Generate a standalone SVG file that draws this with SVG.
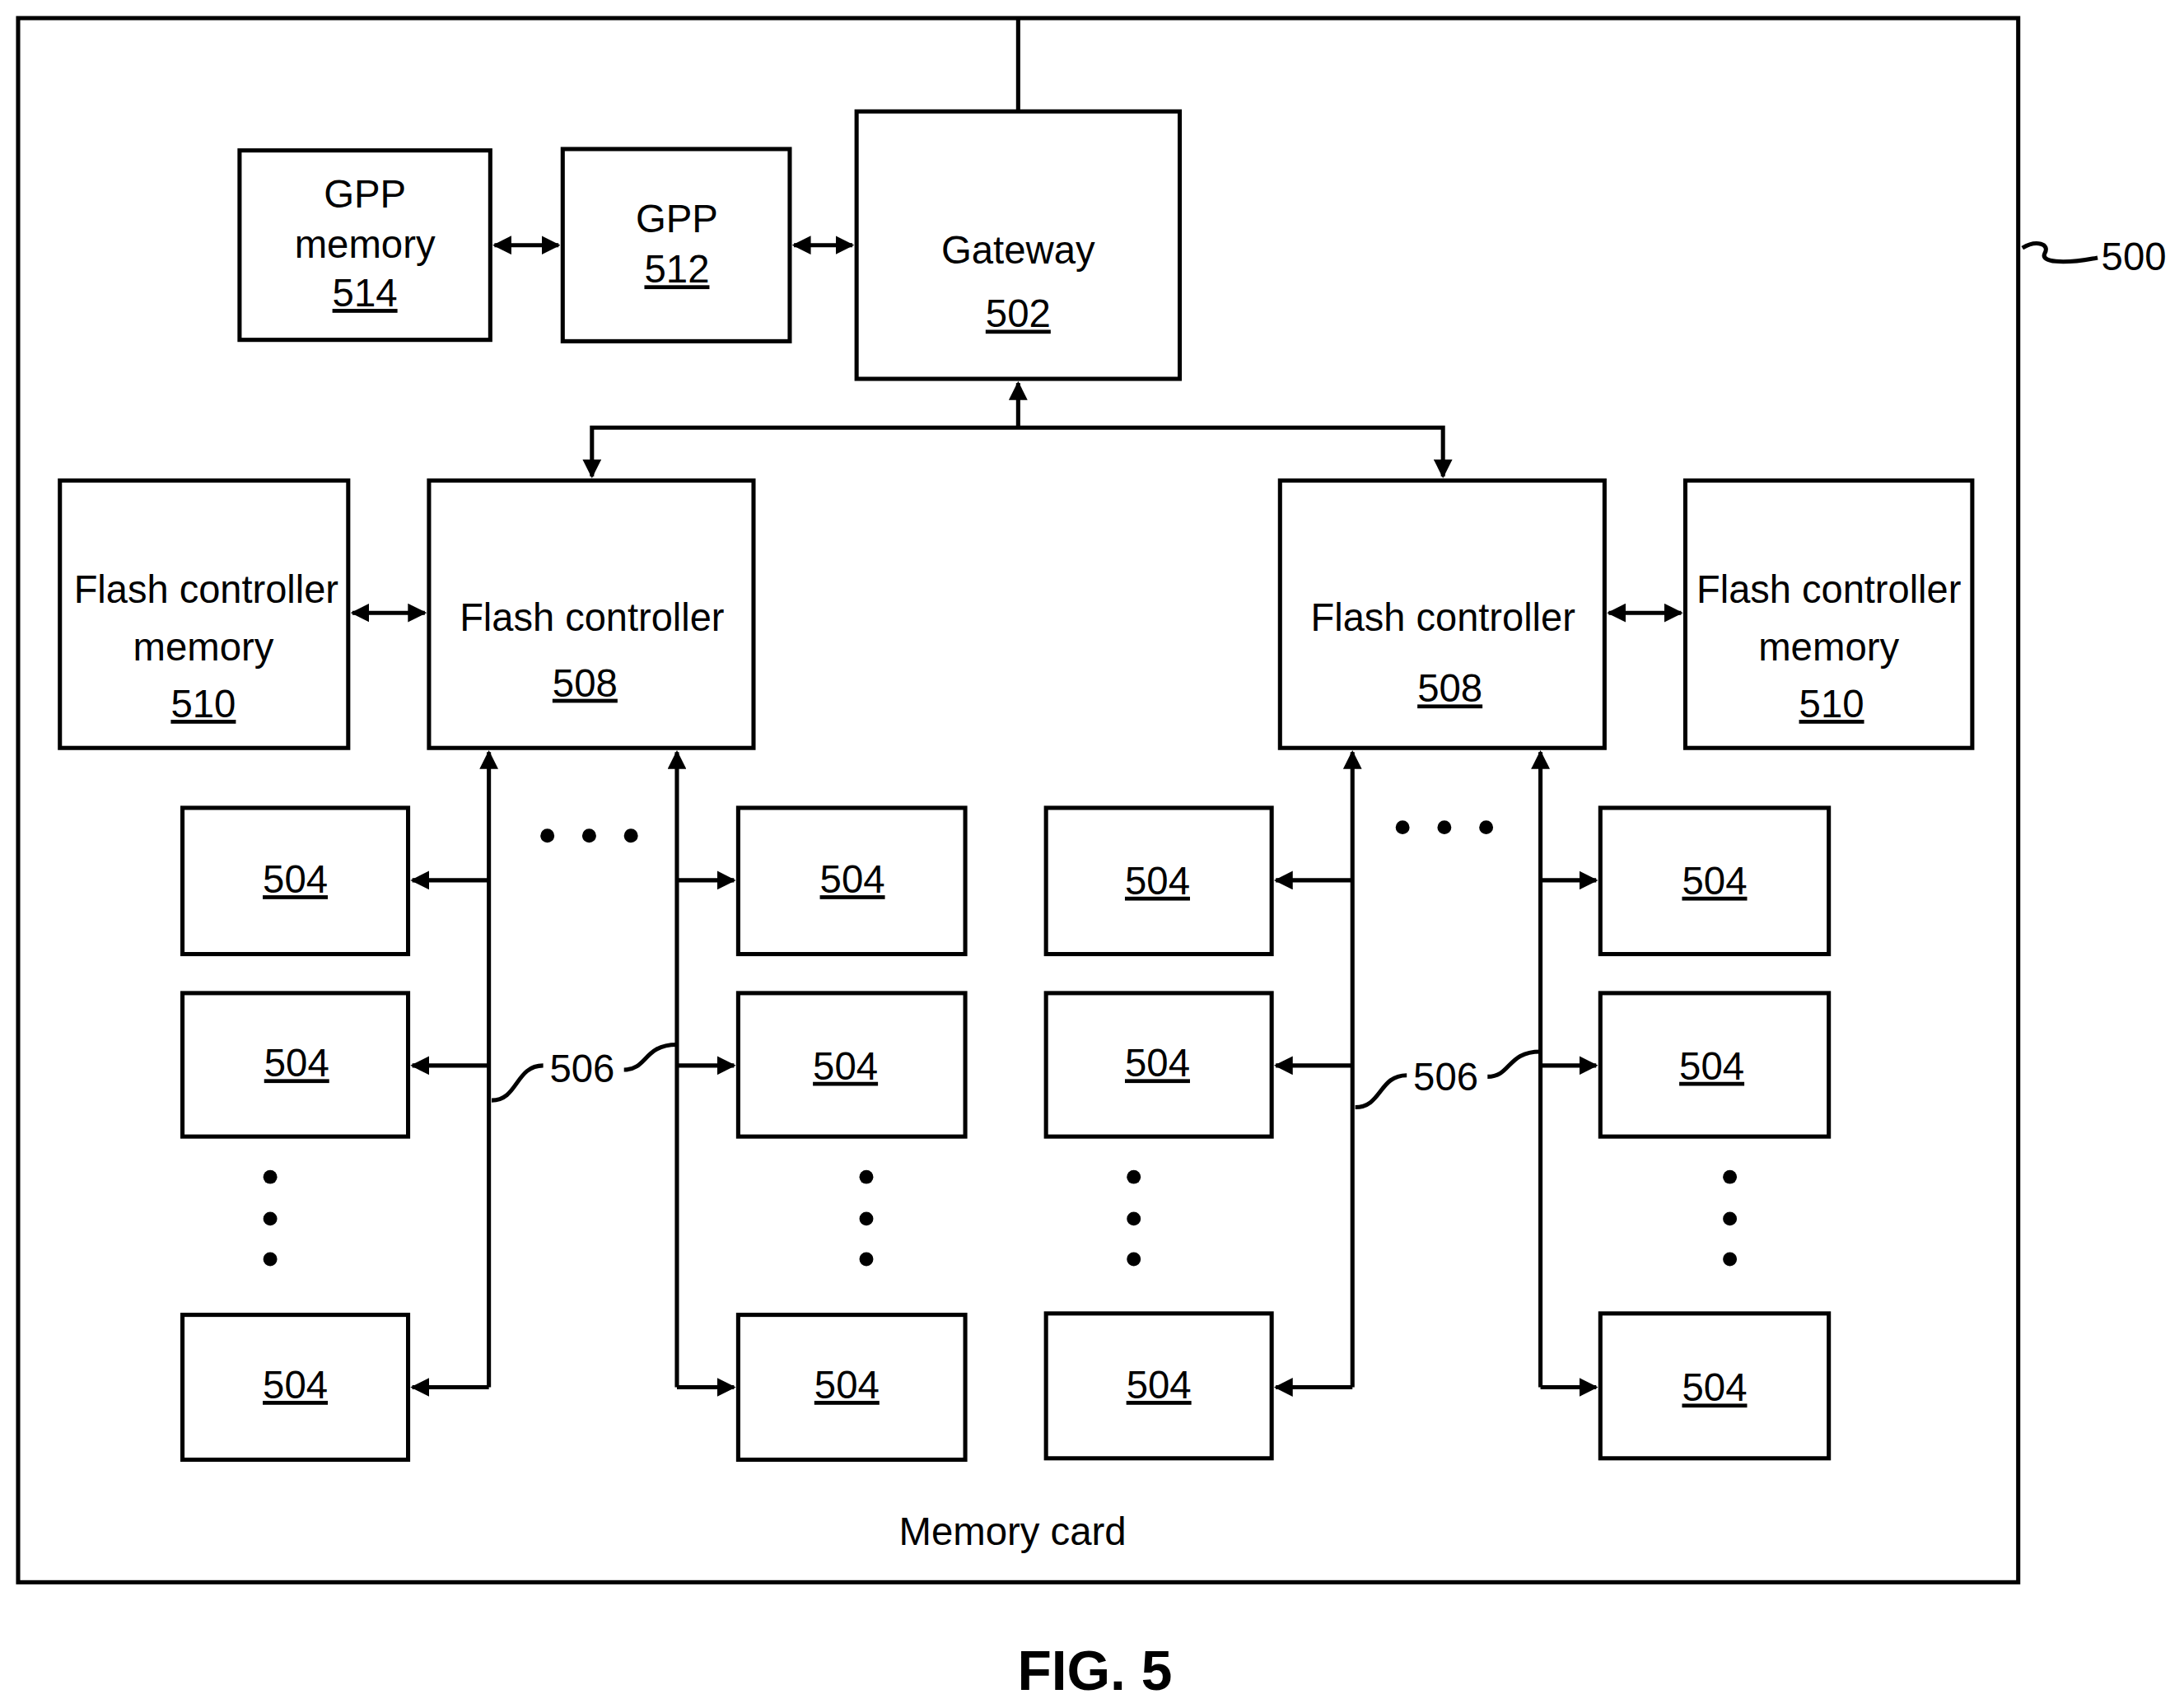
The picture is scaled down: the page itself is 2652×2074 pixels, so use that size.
<svg xmlns="http://www.w3.org/2000/svg" width="2652" height="2074" viewBox="0 0 2652 2074">
<style>
.b{fill:#fff;stroke:#000;stroke-width:3}
.l{fill:none;stroke:#000;stroke-width:3}
text{font-family:"Liberation Sans",Arial,sans-serif;font-size:28px;text-anchor:middle;fill:#000}
.u{text-decoration:underline}
.d{fill:#000}
</style>
<defs>
<marker id="a" viewBox="0 0 10 10" refX="9" refY="5" markerWidth="4.5" markerHeight="4.5" orient="auto-start-reverse"><path d="M0,0L10,5L0,10z"/></marker>
</defs>
<rect width="2652" height="2074" fill="#fff"/>
<g transform="scale(1.6913)">
<rect id="card" class="b" x="13" y="13" width="1436" height="1123"/>
<g id="gppmem"><rect class="b" x="172" y="108" width="180" height="136"/><text x="262" y="149">GPP</text><text x="262" y="185">memory</text><text class="u" x="262" y="220">514</text></g>
<g id="gpp"><rect class="b" x="404" y="107" width="163" height="138"/><text x="486" y="167">GPP</text><text class="u" x="486" y="203">512</text></g>
<g id="gateway"><rect class="b" x="615" y="80" width="232" height="192"/><text x="731" y="189">Gateway</text><text class="u" x="731" y="235">502</text></g>
<g id="fcm1"><rect class="b" x="43" y="345" width="207" height="192"/><text x="148" y="433" textLength="190" lengthAdjust="spacingAndGlyphs">Flash controller</text><text x="146" y="474">memory</text><text class="u" x="146" y="515">510</text></g>
<g id="fc1"><rect class="b" x="308" y="345" width="233" height="192"/><text x="425" y="453" textLength="190" lengthAdjust="spacingAndGlyphs">Flash controller</text><text class="u" x="420" y="500">508</text></g>
<g id="fc2"><rect class="b" x="919" y="345" width="233" height="192"/><text x="1036" y="453" textLength="190" lengthAdjust="spacingAndGlyphs">Flash controller</text><text class="u" x="1041" y="504">508</text></g>
<g id="fcm2"><rect class="b" x="1210" y="345" width="206" height="192"/><text x="1313" y="433" textLength="190" lengthAdjust="spacingAndGlyphs">Flash controller</text><text x="1313" y="474">memory</text><text class="u" x="1315" y="515">510</text></g>
<g id="m504">
<rect class="b" x="131" y="580" width="162" height="105"/><text class="u" x="212" y="641">504</text>
<rect class="b" x="131" y="713" width="162" height="103"/><text class="u" x="213" y="773">504</text>
<rect class="b" x="131" y="944" width="162" height="104"/><text class="u" x="212" y="1004">504</text>
<rect class="b" x="530" y="580" width="163" height="105"/><text class="u" x="612" y="641">504</text>
<rect class="b" x="530" y="713" width="163" height="103"/><text class="u" x="607" y="775">504</text>
<rect class="b" x="530" y="944" width="163" height="104"/><text class="u" x="608" y="1004">504</text>
<rect class="b" x="751" y="580" width="162" height="105"/><text class="u" x="831" y="642">504</text>
<rect class="b" x="751" y="713" width="162" height="103"/><text class="u" x="831" y="773">504</text>
<rect class="b" x="751" y="943" width="162" height="104"/><text class="u" x="832" y="1004">504</text>
<rect class="b" x="1149" y="580" width="164" height="105"/><text class="u" x="1231" y="642">504</text>
<rect class="b" x="1149" y="713" width="164" height="103"/><text class="u" x="1229" y="775">504</text>
<rect class="b" x="1149" y="943" width="164" height="104"/><text class="u" x="1231" y="1006">504</text>
</g>
<g id="connectors">
<path class="l" d="M731,13V80"/>
<path class="l" d="M355,176H401" marker-start="url(#a)" marker-end="url(#a)"/>
<path class="l" d="M570,176H612" marker-start="url(#a)" marker-end="url(#a)"/>
<path class="l" d="M731,307V275" marker-end="url(#a)"/>
<path class="l" d="M425,342V307H1036V342" marker-start="url(#a)" marker-end="url(#a)"/>
<path class="l" d="M253,440H305" marker-start="url(#a)" marker-end="url(#a)"/>
<path class="l" d="M1155,440H1207" marker-start="url(#a)" marker-end="url(#a)"/>
<path class="l" d="M351,996V540" marker-end="url(#a)"/>
<path class="l" d="M486,996V540" marker-end="url(#a)"/>
<path class="l" d="M971,996V540" marker-end="url(#a)"/>
<path class="l" d="M1106,996V540" marker-end="url(#a)"/>
<path class="l" d="M351,632H296" marker-end="url(#a)"/><path class="l" d="M351,765H296" marker-end="url(#a)"/><path class="l" d="M351,996H296" marker-end="url(#a)"/>
<path class="l" d="M486,632H527" marker-end="url(#a)"/><path class="l" d="M486,765H527" marker-end="url(#a)"/><path class="l" d="M486,996H527" marker-end="url(#a)"/>
<path class="l" d="M971,632H916" marker-end="url(#a)"/><path class="l" d="M971,765H916" marker-end="url(#a)"/><path class="l" d="M971,996H916" marker-end="url(#a)"/>
<path class="l" d="M1106,632H1146" marker-end="url(#a)"/><path class="l" d="M1106,765H1146" marker-end="url(#a)"/><path class="l" d="M1106,996H1146" marker-end="url(#a)"/>
<path class="l" stroke-width="2" d="M353,790C372,790 370,765 390,765M448,768C465,768 462,750 486,750"/>
<path class="l" stroke-width="2" d="M973,795C992,795 990,772 1010,772M1068,773C1085,773 1082,755 1106,755"/>
<path class="l" stroke-width="2" d="M1452,178C1462,172 1472,175 1468,182C1465,188 1480,190 1506,185"/>
</g>
<g id="dots">
<circle class="d" cx="393" cy="600" r="5"/><circle class="d" cx="423" cy="600" r="5"/><circle class="d" cx="453" cy="600" r="5"/>
<circle class="d" cx="1007" cy="594" r="5"/><circle class="d" cx="1037" cy="594" r="5"/><circle class="d" cx="1067" cy="594" r="5"/>
<circle class="d" cx="194" cy="845" r="5"/><circle class="d" cx="194" cy="875" r="5"/><circle class="d" cx="194" cy="904" r="5"/>
<circle class="d" cx="622" cy="845" r="5"/><circle class="d" cx="622" cy="875" r="5"/><circle class="d" cx="622" cy="904" r="5"/>
<circle class="d" cx="814" cy="845" r="5"/><circle class="d" cx="814" cy="875" r="5"/><circle class="d" cx="814" cy="904" r="5"/>
<circle class="d" cx="1242" cy="845" r="5"/><circle class="d" cx="1242" cy="875" r="5"/><circle class="d" cx="1242" cy="904" r="5"/>
</g>
<text x="418" y="777">506</text>
<text x="1038" y="783">506</text>
<text x="1532" y="194">500</text>
<text x="727" y="1109">Memory card</text>
<text x="786" y="1213" style="font-size:40px;font-weight:bold">FIG. 5</text>
</g>
</svg>
